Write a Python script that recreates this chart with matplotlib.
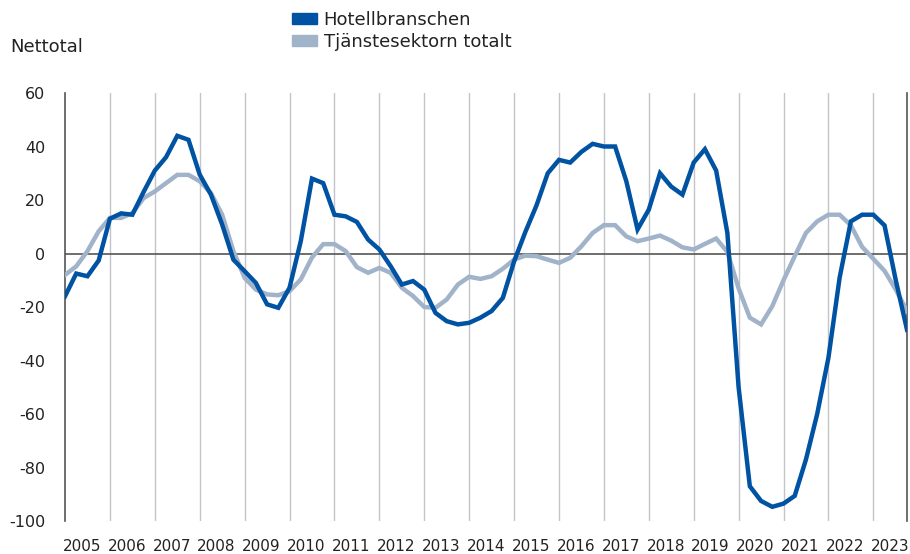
import matplotlib.pyplot as plt
import matplotlib.ticker as ticker
import matplotlib.patches as mpatches
import numpy as np

plt.rcParams['axes.unicode_minus'] = False

# quarterly values, 2005Q1 - 2023Q4
years = list(range(2005, 2024))
hotell = [-16, -7.5, -8.5, -2.6, 13, 15, 14.5, 23,
          31, 36, 44, 42.5, 29.5, 22, 10.8, -2.3,
          -6.6, -11, -19, -20.3, -12.8, 4.6, 28, 26.3,
          14.5, 13.9, 11.8, 5.2, 1.5, -4.7, -11.6, -10.3,
          -13.5, -22.2, -25.3, -26.5, -25.9, -24, -21.5, -16.6,
          -3, 8, 18, 30, 35, 34, 38, 41,
          40, 40, 27, 9, 16.4, 30, 25, 22,
          34, 39, 31, 7.7, -50, -87, -92.5, -94.7,
          -93.5, -90.6, -77, -60, -39, -9, 12, 14.5,
          14.5, 10.5, -10, -28.5]
tjanst = [-8, -4.8, 0.9, 8.3, 13.3, 13.3, 15.1, 20.7,
          23.2, 26.3, 29.4, 29.4, 27, 22.6, 14.5, 0.9,
          -9.1, -13.5, -15.3, -15.6, -14.1, -9.7, -1.5, 3.5,
          3.5, 0.9, -5.1, -7.2, -5.4, -7.2, -12.8, -15.9,
          -20, -20.3, -17.2, -11.6, -8.7, -9.5, -8.5, -5.7,
          -2.3, -0.8, -1, -2.3, -3.5, -1.6, 2.7, 7.7,
          10.6, 10.6, 6.4, 4.6, 5.6, 6.7, 4.8, 2.3,
          1.5, 3.6, 5.6, 0.6, -13, -24, -26.5, -19.7,
          -10, -1, 7.7, 12, 14.5, 14.5, 10.5, 2.5,
          -2, -6.5, -13.5, -21.5]

blue = '#0052a3'
grey = '#a1b3c9'

x = np.arange(len(hotell))

fig = plt.figure(figsize=(9.1, 5.54), dpi=100)
ax = fig.add_axes([65/910, 1 - 521/554, 842/910, 428/554])

ax.plot(x, tjanst, color=grey, lw=3.2, solid_joinstyle='miter', zorder=3)
ax.plot(x, hotell, color=blue, lw=3.2, solid_joinstyle='miter', zorder=4)
ax.axhline(0, color='#555555', lw=1.2, zorder=2)

ax.set_xlim(0, len(hotell) - 1)
ax.set_ylim(-100, 60)

# year boundaries as gridlines, labels in the middle of each year
ax.xaxis.set_major_locator(ticker.FixedLocator(np.arange(4, len(hotell), 4)))
ax.xaxis.set_major_formatter(ticker.NullFormatter())
ax.xaxis.set_minor_locator(ticker.FixedLocator(np.arange(len(years)) * 4 + 1.5))
ax.xaxis.set_minor_formatter(ticker.FixedFormatter([str(y) for y in years]))
ax.tick_params(axis='x', which='both', length=0, pad=13, labelsize=11, colors='#222222')
ax.grid(axis='x', which='major', color='#c3c3ca', lw=1)

ax.yaxis.set_major_locator(ticker.MultipleLocator(20))
ax.tick_params(axis='y', length=0, pad=14, labelsize=11.5, colors='#222222')

for s in ['top', 'bottom']:
    ax.spines[s].set_visible(False)
for s in ['left', 'right']:
    ax.spines[s].set_color('#555555')
    ax.spines[s].set_linewidth(1.2)

fig.text(10/910, 1 - 47/554, 'Nettotal', fontsize=13, color='#222222',
         ha='left', va='center')

handles = [mpatches.Patch(color=blue, label='Hotellbranschen'),
           mpatches.Patch(color=grey, label='Tjänstesektorn totalt')]
fig.legend(handles=handles, loc='upper left', bbox_to_anchor=(292/910, 1 - 11/554),
           frameon=False, fontsize=13, handlelength=1.4, handleheight=0.6,
           handletextpad=0.35, labelspacing=0.2, borderpad=0, borderaxespad=0,
           labelcolor='#222222')

fig.savefig('out.png', dpi=100)
